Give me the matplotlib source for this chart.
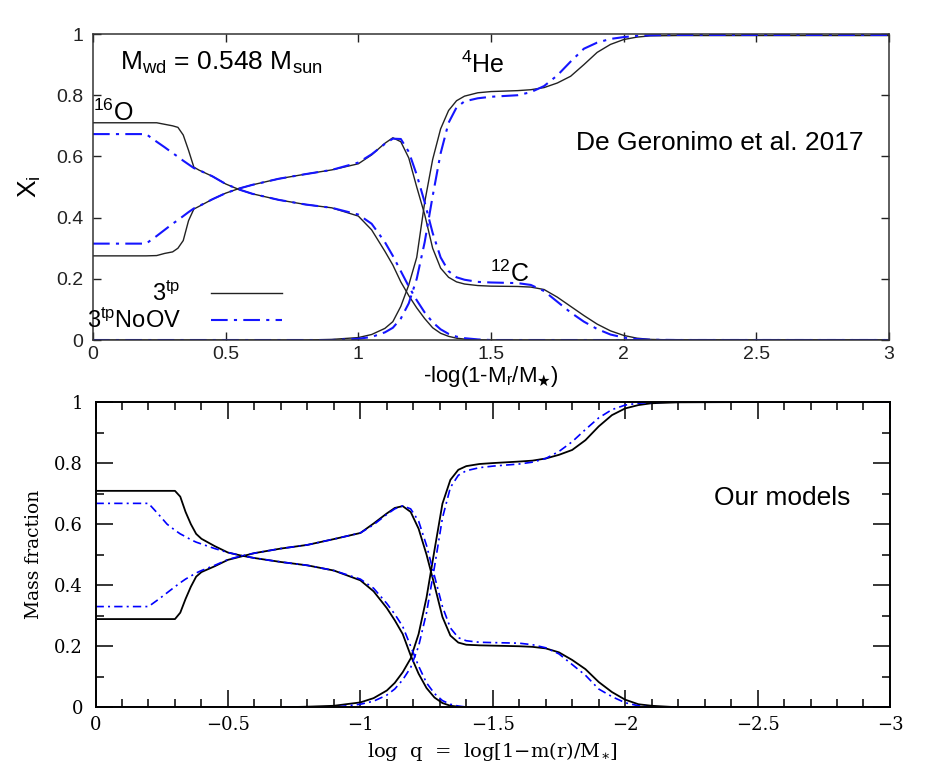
import numpy as np
import matplotlib
matplotlib.use("Agg")
import matplotlib.pyplot as plt
from matplotlib.ticker import MultipleLocator, FuncFormatter
from matplotlib.lines import Line2D

plt.rcParams['font.family'] = ['Liberation Sans', 'DejaVu Sans']
plt.rcParams['mathtext.fontset'] = 'custom'
plt.rcParams['mathtext.rm'] = 'Liberation Sans'
plt.rcParams['mathtext.it'] = 'Liberation Sans'
plt.rcParams['mathtext.fallback'] = 'stixsans'

# common grid of -log(1-Mr/M*) values the curves were read at
grid = [0, 0.1, 0.2, 0.24, 0.27, 0.30, 0.32, 0.34, 0.36, 0.38, 0.40,
        0.45, 0.50, 0.55, 0.60, 0.70, 0.80, 0.90, 1.00, 1.05, 1.10,
        1.13, 1.16, 1.19, 1.22, 1.25, 1.28, 1.31, 1.34, 1.37, 1.40,
        1.45, 1.50, 1.60, 1.65, 1.70, 1.75, 1.80, 1.85, 1.90, 1.95,
        2.00, 2.05, 2.10, 2.20, 2.50, 3.00]

# --- De Geronimo et al. 2017 (top) ---
dg_o_3tp = [0.71, 0.71, 0.71, 0.71, 0.705, 0.70, 0.695, 0.67, 0.62, 0.565, 0.555,
            0.535, 0.51, 0.492, 0.478, 0.458, 0.443, 0.432, 0.405, 0.36, 0.29,
            0.245, 0.19, 0.145, 0.105, 0.07, 0.04, 0.022, 0.012, 0.006, 0.003,
            0.001, 0, 0, 0, 0, 0, 0, 0, 0, 0,
            0, 0, 0, 0, 0, 0]
dg_o_noov = [0.673, 0.673, 0.673, 0.648, 0.63, 0.611, 0.599, 0.586, 0.574, 0.562, 0.555,
             0.535, 0.51, 0.492, 0.478, 0.458, 0.443, 0.432, 0.41, 0.38, 0.32,
             0.275, 0.225, 0.175, 0.13, 0.09, 0.058, 0.035, 0.02, 0.011, 0.006,
             0.002, 0, 0, 0, 0, 0, 0, 0, 0, 0,
             0, 0, 0, 0, 0, 0]
dg_c_3tp = [0.275, 0.275, 0.275, 0.276, 0.283, 0.288, 0.30, 0.325, 0.39, 0.428, 0.437,
            0.46, 0.48, 0.495, 0.507, 0.527, 0.542, 0.556, 0.576, 0.605, 0.643,
            0.661, 0.648, 0.595, 0.50, 0.41, 0.30, 0.235, 0.205, 0.19, 0.183,
            0.178, 0.176, 0.175, 0.173, 0.165, 0.14, 0.11, 0.08, 0.052, 0.03,
            0.015, 0.006, 0.002, 0, 0, 0]
dg_c_noov = [0.315, 0.315, 0.315, 0.34, 0.36, 0.38, 0.392, 0.405, 0.418, 0.43, 0.438,
             0.46, 0.48, 0.495, 0.507, 0.527, 0.542, 0.556, 0.58, 0.607, 0.641,
             0.658, 0.657, 0.615, 0.54, 0.45, 0.35, 0.27, 0.225, 0.205, 0.197,
             0.19, 0.188, 0.186, 0.18, 0.16, 0.125, 0.09, 0.06, 0.036, 0.018,
             0.008, 0.003, 0.001, 0, 0, 0]
dg_he_3tp = [0, 0, 0, 0, 0, 0, 0, 0, 0, 0, 0,
             0, 0, 0, 0, 0, 0, 0.002, 0.008, 0.018, 0.038,
             0.06, 0.11, 0.18, 0.27, 0.45, 0.59, 0.69, 0.75, 0.782, 0.797,
             0.808, 0.812, 0.815, 0.818, 0.825, 0.84, 0.862, 0.90, 0.94, 0.966,
             0.982, 0.99, 0.994, 0.995, 0.995, 0.995]
dg_he_noov = [0, 0, 0, 0, 0, 0, 0, 0, 0, 0, 0,
              0, 0, 0, 0, 0, 0, 0, 0.004, 0.01, 0.025,
              0.04, 0.07, 0.12, 0.2, 0.32, 0.47, 0.61, 0.71, 0.76, 0.78,
              0.79, 0.795, 0.80, 0.81, 0.83, 0.865, 0.91, 0.952, 0.972, 0.984,
              0.99, 0.994, 0.996, 0.997, 0.997, 0.997]

# --- our models (bottom), plotted against log q = -grid ---
our_o_3tp = [0.709, 0.709, 0.709, 0.709, 0.709, 0.709, 0.69, 0.64, 0.60, 0.568, 0.552,
             0.528, 0.507, 0.497, 0.489, 0.476, 0.465, 0.448, 0.416, 0.38, 0.325,
             0.285, 0.24, 0.17, 0.11, 0.063, 0.032, 0.014, 0.005, 0.002, 0,
             0, 0, 0, 0, 0, 0, 0, 0, 0, 0,
             0, 0, 0, 0, 0, 0]
our_o_noov = [0.668, 0.668, 0.668, 0.63, 0.60, 0.58, 0.568, 0.559, 0.549, 0.541, 0.535,
              0.52, 0.507, 0.497, 0.489, 0.476, 0.465, 0.448, 0.42, 0.39, 0.34,
              0.305, 0.265, 0.20, 0.135, 0.08, 0.045, 0.022, 0.01, 0.004, 0.001,
              0, 0, 0, 0, 0, 0, 0, 0, 0, 0,
              0, 0, 0, 0, 0, 0]
our_c_3tp = [0.289, 0.289, 0.289, 0.289, 0.289, 0.289, 0.31, 0.355, 0.395, 0.428, 0.443,
             0.462, 0.483, 0.494, 0.505, 0.52, 0.532, 0.551, 0.571, 0.602, 0.635,
             0.653, 0.659, 0.64, 0.585, 0.50, 0.40, 0.296, 0.235, 0.212, 0.205,
             0.203, 0.202, 0.20, 0.198, 0.193, 0.18, 0.155, 0.125, 0.083, 0.05,
             0.025, 0.01, 0.005, 0, 0, 0]
our_c_noov = [0.33, 0.33, 0.33, 0.355, 0.375, 0.395, 0.408, 0.42, 0.43, 0.44, 0.448,
              0.465, 0.484, 0.496, 0.505, 0.52, 0.532, 0.551, 0.571, 0.598, 0.632,
              0.65, 0.66, 0.65, 0.61, 0.53, 0.43, 0.33, 0.26, 0.228, 0.218,
              0.213, 0.212, 0.21, 0.205, 0.195, 0.175, 0.14, 0.105, 0.06, 0.035,
              0.015, 0.005, 0.001, 0, 0, 0]
our_he_3tp = [0, 0, 0, 0, 0, 0, 0, 0, 0, 0, 0,
              0, 0, 0, 0, 0, 0.002, 0.005, 0.016, 0.03, 0.055,
              0.08, 0.115, 0.16, 0.24, 0.36, 0.515, 0.667, 0.745, 0.778, 0.79,
              0.797, 0.80, 0.805, 0.808, 0.815, 0.827, 0.843, 0.875, 0.92, 0.957,
              0.979, 0.99, 0.996, 0.999, 1.0, 1.0]
our_he_noov = [0, 0, 0, 0, 0, 0, 0, 0, 0, 0, 0,
               0, 0, 0, 0, 0, 0, 0, 0.01, 0.02, 0.04,
               0.06, 0.09, 0.13, 0.2, 0.31, 0.46, 0.62, 0.72, 0.76, 0.775,
               0.785, 0.79, 0.797, 0.803, 0.815, 0.838, 0.87, 0.91, 0.948, 0.975,
               0.99, 0.996, 0.999, 1.0, 1.0, 1.0]

logq = -np.array(grid)


def num_fmt(v, pos):
    if abs(v) < 1e-9:
        return '0'
    return f'{v:g}'.replace('-', '\u2212')


fig = plt.figure(figsize=(9.32, 7.77), dpi=100)

# ---------------- top panel ----------------
ax1 = fig.add_axes([0.0998, 0.5624, 0.8541, 0.3938])
blk1 = dict(color='#222222', lw=1.0)
blu1 = dict(color='#1515ff', lw=1.5, dashes=(8, 3, 1.5, 3))
for ys in (dg_o_3tp, dg_c_3tp, dg_he_3tp):
    ax1.plot(grid, ys, **blk1)
for ys in (dg_o_noov, dg_c_noov, dg_he_noov):
    ax1.plot(grid, ys, **blu1)
ax1.set_xlim(0, 3)
ax1.set_ylim(0, 1)
ax1.xaxis.set_major_locator(MultipleLocator(0.5))
ax1.yaxis.set_major_locator(MultipleLocator(0.2))
ax1.xaxis.set_major_formatter(FuncFormatter(num_fmt))
ax1.yaxis.set_major_formatter(FuncFormatter(num_fmt))
ax1.tick_params(direction='in', top=True, right=True, length=6, width=1,
                labelsize=14, colors='#222222')
ax1.tick_params(axis='y', pad=7)
ax1.tick_params(axis='x', pad=4)
for s in ax1.spines.values():
    s.set_linewidth(1.1)
    s.set_color('#333333')
ax1.set_xlabel(r'-log(1-M$_{\rm r}$/M$_\bigstar$)', fontsize=16, labelpad=0)
ax1.set_ylabel(r'X$_{\rm i}$', fontsize=19)
ax1.yaxis.set_label_coords(-0.063, 0.5)
ax1.xaxis.set_label_coords(0.5, -0.077)

ax1.text(0.10, 0.882, r'M$_{\rm wd}$ = 0.548 M$_{\rm sun}$', fontsize=19)
ax1.text(0.0, 0.717, r'$^{\rm 16}$O', fontsize=18)
ax1.text(1.385, 0.873, r'$^{\rm 4}$He', fontsize=18)
ax1.text(1.495, 0.19, r'$^{\rm 12}$C', fontsize=18)
ax1.text(2.906, 0.621, 'De Geronimo et al. 2017', fontsize=19, ha='right')

handles = [Line2D([], [], **blk1), Line2D([], [], **blu1)]
ax1.legend(handles, [r'3$^{\rm tp}$', r'3$^{\rm tp}$NoOV'], loc='lower left',
           bbox_to_anchor=(-0.014, 0.008), markerfirst=False, frameon=False,
           fontsize=17, handlelength=3.0, handletextpad=1.3, labelspacing=0.1,
           borderpad=0.2, borderaxespad=0)

# ---------------- bottom panel ----------------
serif = 'DejaVu Serif'
ax2 = fig.add_axes([0.1025, 0.0897, 0.8524, 0.3929])
blk2 = dict(color='black', lw=1.3)
blu2 = dict(color='#0000ff', lw=1.2, dashes=(5, 2.5, 1.2, 2.5))
for ys in (our_o_3tp, our_c_3tp, our_he_3tp):
    ax2.plot(logq, ys, **blk2)
for ys in (our_o_noov, our_c_noov, our_he_noov):
    ax2.plot(logq, ys, **blu2)
ax2.set_xlim(0, -3)
ax2.set_ylim(0, 1)
ax2.xaxis.set_major_locator(MultipleLocator(0.5))
ax2.xaxis.set_minor_locator(MultipleLocator(0.1))
ax2.yaxis.set_major_locator(MultipleLocator(0.2))
ax2.yaxis.set_minor_locator(MultipleLocator(0.1))
ax2.xaxis.set_major_formatter(FuncFormatter(num_fmt))
ax2.yaxis.set_major_formatter(FuncFormatter(num_fmt))
ax2.tick_params(which='both', direction='in', top=True, right=True, width=1.1)
ax2.tick_params(which='major', length=12, labelsize=13)
ax2.tick_params(which='minor', length=6)
ax2.tick_params(axis='y', pad=9)
ax2.tick_params(axis='x', pad=6)
for lab in ax2.get_xticklabels() + ax2.get_yticklabels():
    lab.set_family(serif)
for s in ax2.spines.values():
    s.set_linewidth(1.4)
ax2.set_ylabel('Mass fraction', family=serif, fontsize=13.5)
ax2.set_xlabel(r'log  q  =  log[1$-$m(r)/M$_{\ast}$]', family=serif, fontsize=14,
               math_fontfamily='dejavuserif')
ax2.yaxis.set_label_coords(-0.066, 0.5)
ax2.xaxis.set_label_coords(0.5, -0.108)
ax2.text(-2.851, 0.663, 'Our models', fontsize=19, ha='right')

fig.savefig('out.png', dpi=100)
